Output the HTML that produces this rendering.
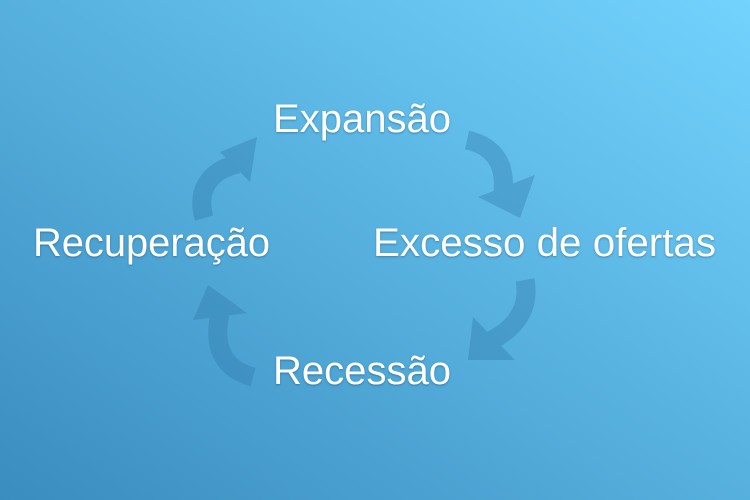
<!DOCTYPE html>
<html><head><meta charset="utf-8"><style>
html,body{margin:0;padding:0;width:750px;height:500px;overflow:hidden}
svg{display:block}
text{font-family:"Liberation Sans",sans-serif;font-size:40px;fill:#fff;filter:drop-shadow(0 1px 1px rgba(0,40,80,0.35))}
</style></head><body>
<svg width="750" height="500" viewBox="0 0 750 500" xmlns="http://www.w3.org/2000/svg">
<defs>
<linearGradient id="bg" x1="1" y1="0" x2="0" y2="1">
<stop offset="0" stop-color="#73d3fd"/>
<stop offset="1" stop-color="#3a8dbf"/>
</linearGradient>
</defs>
<rect width="750" height="500" fill="url(#bg)"/>
<g opacity="0.35">
<g fill="none" stroke="#2a76a8" stroke-width="19">
<path d="M204,218 C196,190 210,170 238,164"/>
<path d="M467,140 C494,146 506,164 503,192"/>
<path d="M525,280 C530,307 517,327 492,340"/>
<path d="M253,377 C226,370 212,350 220,314"/>
</g>
<g fill="#2a76a8">
<polygon points="257,137 220,152 250,182"/>
<polygon points="478,197 535,175 520,218"/>
<polygon points="473,317 515,360 468,360"/>
<polygon points="208,285 193,320 247,313"/>
</g>
</g>
<text x="273" y="132" textLength="178" lengthAdjust="spacingAndGlyphs">Expansão</text>
<text x="373" y="256" textLength="343" lengthAdjust="spacingAndGlyphs">Excesso de ofertas</text>
<text x="33" y="256" textLength="237" lengthAdjust="spacingAndGlyphs">Recuperação</text>
<text x="273" y="384" textLength="178" lengthAdjust="spacingAndGlyphs">Recessão</text>
</svg>
</body></html>
